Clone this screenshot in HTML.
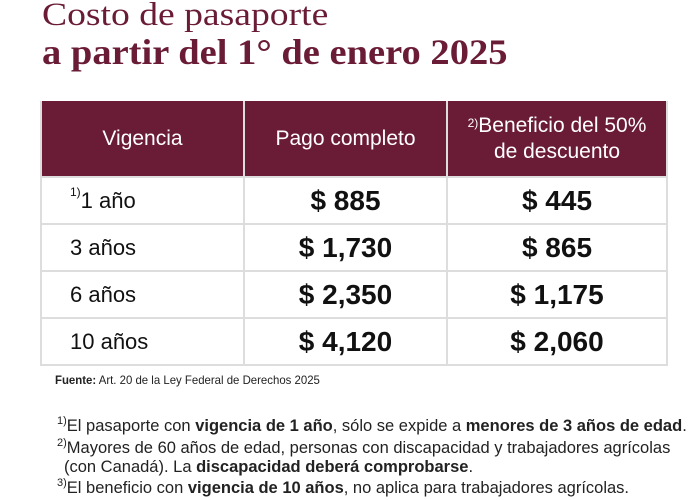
<!DOCTYPE html>
<html><head><meta charset="utf-8"><style>
body{margin:0;width:700px;height:500px;background:#fff;position:relative;overflow:hidden;font-family:"Liberation Sans",sans-serif;}
.a{position:absolute;white-space:nowrap;}
.t{color:#6a1c36;font-family:"Liberation Serif",serif;transform-origin:left;}
table{position:absolute;left:40px;top:101px;width:628px;border-collapse:collapse;}
td{border:2px solid #ddd;text-align:center;color:#111;}
th{background:#6a1c36;color:#fff;font-weight:normal;font-size:21px;height:73px;border:2px solid #ddd;border-top:none;line-height:26px;}
td{height:43px;font-size:28px;font-weight:bold;}
td.l{text-align:left;padding-left:28px;font-weight:normal;font-size:22px;}
sup{font-size:12px;vertical-align:top;position:relative;top:-3px}
.fn{font-size:16.5px;color:#222;}
.fn sup{font-size:11px;top:-2px}
</style></head><body>
<div class="a t" style="left:42px;top:-3px;font-size:33px;transform:scaleX(1.14);">Costo de pasaporte</div>
<div class="a t" style="left:42px;top:31px;font-size:36px;font-weight:bold;transform:scaleX(1.07);">a partir del 1° de enero 2025</div>
<table>
<tr><th style="width:199px">Vigencia</th><th style="width:199px">Pago completo</th><th><sup>2)</sup>Beneficio del 50%<br>de descuento</th></tr>
<tr><td class="l"><sup>1)</sup>1 año</td><td>$ 885</td><td>$ 445</td></tr>
<tr><td class="l">3 años</td><td>$ 1,730</td><td>$ 865</td></tr>
<tr><td class="l">6 años</td><td>$ 2,350</td><td>$ 1,175</td></tr>
<tr><td class="l">10 años</td><td>$ 4,120</td><td>$ 2,060</td></tr>
</table>
<div class="a" style="left:55px;top:373px;font-size:12px;color:#222;transform:scaleX(0.95);transform-origin:left;"><b>Fuente:</b> Art. 20 de la Ley Federal de Derechos 2025</div>
<div class="a fn" style="left:57px;top:417px;"><sup>1)</sup>El pasaporte con <b>vigencia de 1 año</b>, sólo se expide a <b>menores de 3 años de edad</b>.</div>
<div class="a fn" style="left:57px;top:439px;"><sup>2)</sup>Mayores de 60 años de edad, personas con discapacidad y trabajadores agrícolas</div>
<div class="a fn" style="left:64px;top:458px;">(con Canadá). La <b>discapacidad deberá comprobarse</b>.</div>
<div class="a fn" style="left:57px;top:479px;"><sup>3)</sup>El beneficio con <b>vigencia de 10 años</b>, no aplica para trabajadores agrícolas.</div>
</body></html>
